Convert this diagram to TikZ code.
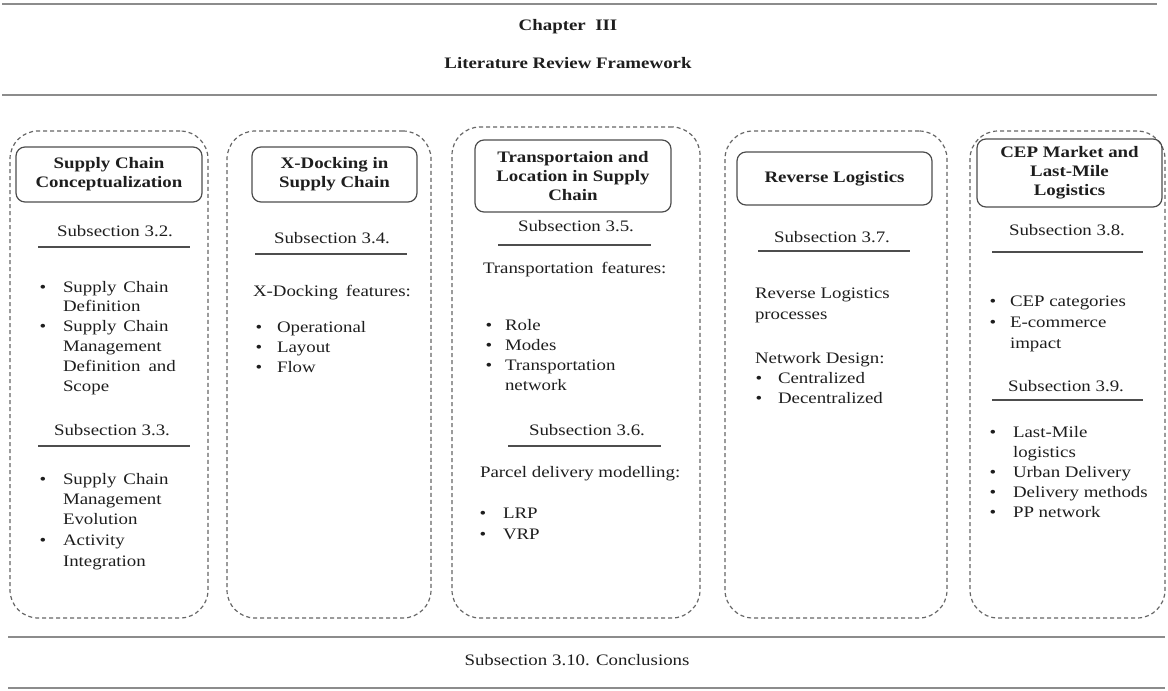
\documentclass[tikz,border=0pt]{standalone}
\usepackage{fontspec}
\setmainfont{Liberation Serif}[FakeStretch=1.18]
\definecolor{txt}{HTML}{1E1E1E}
\definecolor{rulegray}{HTML}{8C8C8C}
\definecolor{dashgray}{HTML}{666666}
\definecolor{boxgray}{HTML}{4D4D4D}
\newcommand{\bodyfont}{\fontsize{16}{19}\selectfont}
\newcommand{\headfont}{\fontsize{16}{19}\selectfont\bfseries}
\begin{document}
\begin{tikzpicture}[x=1pt,y=-1pt,
  every node/.style={inner sep=0pt,outer sep=0pt,text=txt},
  toprule/.style={draw=rulegray,line width=2.8pt},
  lowrule/.style={draw=rulegray,line width=2pt},
  column/.style={draw=dashgray,line width=1.2pt,dash pattern=on 4pt off 3pt,rounded corners=28pt},
  headbox/.style={draw=boxgray,line width=1.2pt,rounded corners=9pt,font=\headfont,align=center},
  title/.style={font=\headfont,anchor=center},
  subhead/.style={font=\bodyfont,anchor=mid},
  subrule/.style={draw=boxgray,line width=1.4pt},
  item/.style={font=\bodyfont,anchor=mid west},
  dot/.style={font=\bodyfont,anchor=mid}]
\useasboundingbox (0,0) rectangle (1168,691);

% header band
\draw[toprule] (2,4) -- (1157,4);
\node[title] (chap) at (568,27) {Chapter\ \ III};
\node[title] (frame) at (568,63) {Literature Review Framework};
\draw[toprule] (2,95) -- (1157,95);

% the five dashed columns
\node[column,minimum width=198,minimum height=487] (col1) at (109,374.5) {};
\node[column,minimum width=204,minimum height=487] (col2) at (329,374.5) {};
\node[column,minimum width=248,minimum height=491] (col3) at (576,372.5) {};
\node[column,minimum width=222,minimum height=487] (col4) at (836,374.5) {};
\node[column,minimum width=195,minimum height=487] (col5) at (1067.5,374.5) {};

% section headings
\node[headbox,minimum width=186,minimum height=55] (h1) at (109,174.5) {Supply Chain\\Conceptualization};
\node[headbox,minimum width=165,minimum height=55] (h2) at (334.5,174.5) {X-Docking in\\Supply Chain};
\node[headbox,minimum width=196,minimum height=72] (h3) at (573,176) {Transportaion and\\Location in Supply\\Chain};
\node[headbox,minimum width=195,minimum height=53] (h4) at (834.5,178.5) {Reverse Logistics};
\node[headbox,minimum width=185,minimum height=68] (h5) at (1069.5,173) {CEP Market and\\Last-Mile\\Logistics};

% column 1
\node[subhead] (s32) at (115,234) {Subsection 3.2.};
\draw[subrule] (38,247) -- (190,247);
\node[dot] (b1a) at (43,290) {•};
\node[item] (t1a) at (63,290) {Supply\hspace{7pt}Chain};
\node[item] (t1b) at (63,309) {Definition};
\node[dot] (b1c) at (43,329) {•};
\node[item] (t1c) at (63,329) {Supply\hspace{7pt}Chain};
\node[item] (t1d) at (63,349) {Management};
\node[item] (t1e) at (63,369) {Definition\hspace{8pt}and};
\node[item] (t1f) at (63,389) {Scope};
\node[subhead] (s33) at (112,433) {Subsection 3.3.};
\draw[subrule] (38,446) -- (190,446);
\node[dot] (b1g) at (43,482) {•};
\node[item] (t1g) at (63,482) {Supply\hspace{7pt}Chain};
\node[item] (t1h) at (63,502) {Management};
\node[item] (t1i) at (63,522) {Evolution};
\node[dot] (b1j) at (43,543) {•};
\node[item] (t1j) at (63,543) {Activity};
\node[item] (t1k) at (63,564) {Integration};

% column 2
\node[subhead] (s34) at (332,241) {Subsection 3.4.};
\draw[subrule] (255,254) -- (407,254);
\node[item] (f2) at (253,294) {X-Docking\hspace{8pt}features:};
\node[dot] (b2a) at (259,330) {•};
\node[item] (t2a) at (277,330) {Operational};
\node[dot] (b2b) at (259,350) {•};
\node[item] (t2b) at (277,350) {Layout};
\node[dot] (b2c) at (259,370) {•};
\node[item] (t2c) at (277,370) {Flow};

% column 3
\node[subhead] (s35) at (576,229) {Subsection 3.5.};
\draw[subrule] (498,245) -- (651,245);
\node[item] (f3) at (483,271) {Transportation\hspace{8pt}features:};
\node[dot] (b3a) at (489,328) {•};
\node[item] (t3a) at (505,328) {Role};
\node[dot] (b3b) at (489,348) {•};
\node[item] (t3b) at (505,348) {Modes};
\node[dot] (b3c) at (489,368) {•};
\node[item] (t3c) at (505,368) {Transportation};
\node[item] (t3d) at (505,388) {network};
\node[subhead] (s36) at (587,433) {Subsection 3.6.};
\draw[subrule] (508,446) -- (661,446);
\node[item] (f3b) at (480,475) {Parcel delivery modelling:};
\node[dot] (b3e) at (483,516) {•};
\node[item] (t3e) at (503,516) {LRP};
\node[dot] (b3f) at (483,537) {•};
\node[item] (t3f) at (503,537) {VRP};

% column 4
\node[subhead] (s37) at (832,240) {Subsection 3.7.};
\draw[subrule] (758,251) -- (910,251);
\node[item] (f4a) at (755,296) {Reverse Logistics};
\node[item] (f4b) at (755,317) {processes};
\node[item] (f4c) at (755,361) {Network Design:};
\node[dot] (b4a) at (759,381) {•};
\node[item] (t4a) at (778,381) {Centralized};
\node[dot] (b4b) at (759,401) {•};
\node[item] (t4b) at (778,401) {Decentralized};

% column 5
\node[subhead] (s38) at (1067,233) {Subsection 3.8.};
\draw[subrule] (992,252) -- (1143,252);
\node[dot] (b5a) at (993,304) {•};
\node[item] (t5a) at (1010,304) {CEP categories};
\node[dot] (b5b) at (993,325) {•};
\node[item] (t5b) at (1010,325) {E-commerce};
\node[item] (t5c) at (1010,346) {impact};
\node[subhead] (s39) at (1066,389) {Subsection 3.9.};
\draw[subrule] (992,400) -- (1143,400);
\node[dot] (b5d) at (993,435) {•};
\node[item] (t5d) at (1013,435) {Last-Mile};
\node[item] (t5e) at (1013,455) {logistics};
\node[dot] (b5f) at (993,475) {•};
\node[item] (t5f) at (1013,475) {Urban Delivery};
\node[dot] (b5g) at (993,495) {•};
\node[item] (t5g) at (1013,495) {Delivery methods};
\node[dot] (b5h) at (993,515) {•};
\node[item] (t5h) at (1013,515) {PP network};

% closing band
\draw[lowrule] (8,637) -- (1165,637);
\node[subhead] (concl) at (577,663) {Subsection 3.10. Conclusions};
\draw[lowrule] (8,688) -- (1165,688);
\end{tikzpicture}
\end{document}
